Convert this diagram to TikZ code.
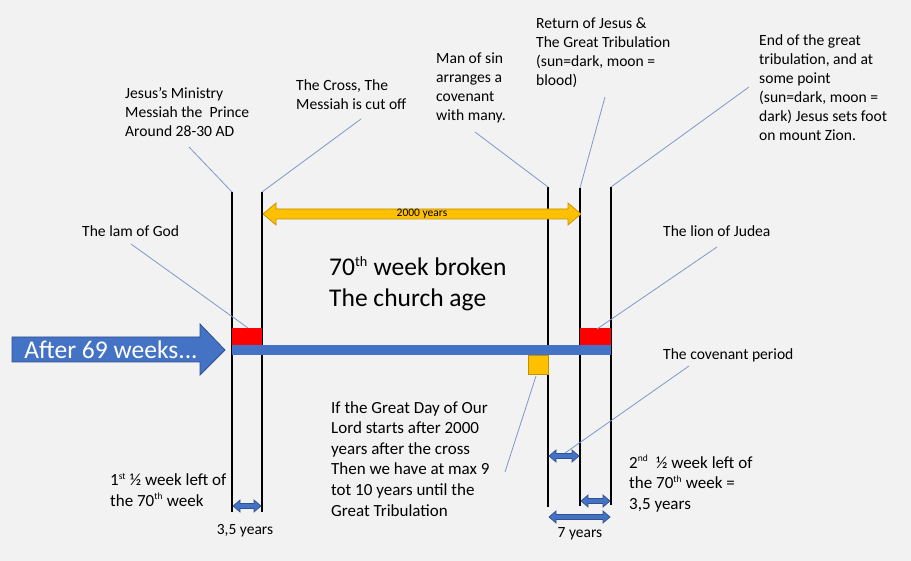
\documentclass[tikz,border=0pt]{standalone}
\usepackage{fontspec}
\setmainfont{Carlito}
\definecolor{hintergrund}{RGB}{242,242,242}
\definecolor{balkenblau}{RGB}{68,114,196}
\definecolor{randblau}{RGB}{47,82,143}
\definecolor{gelb}{RGB}{255,192,0}
\definecolor{randgelb}{RGB}{191,144,0}
\definecolor{linienblau}{RGB}{125,152,200}
\tikzset{
  zeitlinie/.style={line width=2pt,black},
  hinweis/.style={draw=linienblau,line width=0.8pt},
  tekst/.style={anchor=north west,align=left,inner sep=0pt,font=\fontsize{15.6}{19}\selectfont},
  grosstekst/.style={anchor=north west,align=left,inner sep=0pt,font=\fontsize{17}{20.6}\selectfont},
  kleinpfeil/.style={fill=balkenblau,draw=randblau,line width=0.7pt},
  jahrpfeil/.style={fill=gelb,draw=randgelb,line width=0.7pt}
}
% hochgestellt, kleiner als \textsuperscript
\newcommand{\hoch}[1]{\textsuperscript{\scalebox{0.8}{#1}}}
% Doppelpfeil: Stil, x1, x2, y, Schaft, Kopfbreite, Kopflaenge
\newcommand{\doppelpfeil}[7]{%
  \filldraw[#1] (#2,#4) -- ({#2+#7},{#4-#6}) -- ({#2+#7},{#4-#5}) -- ({#3-#7},{#4-#5})
    -- ({#3-#7},{#4-#6}) -- (#3,#4) -- ({#3-#7},{#4+#6}) -- ({#3-#7},{#4+#5})
    -- ({#2+#7},{#4+#5}) -- ({#2+#7},{#4+#6}) -- cycle;}
\begin{document}
\begin{tikzpicture}[x=1pt,y=-1pt]
        % Hintergrund
        \fill[hintergrund] (0,0) rectangle (911,561);
        \useasboundingbox (0,0) rectangle (911,561);

        % Zeitlinien
        \coordinate (aoben) at (232,192); \coordinate (aunten) at (232,512);
        \coordinate (boben) at (262,192); \coordinate (bunten) at (262,512);
        \coordinate (coben) at (548,187); \coordinate (cunten) at (548,507);
        \coordinate (doben) at (580,188); \coordinate (dunten) at (580,506);
        \coordinate (eoben) at (611,187); \coordinate (eunten) at (611,505);
        \foreach \n in {a,b,c,d,e} {
            \draw[zeitlinie] (\n oben) -- (\n unten);
        }

        % Balken
        \fill[balkenblau] (232,345) rectangle (611,355);
        \fill[red] (232,328) rectangle (262,345);
        \fill[red] (580,328) rectangle (611,345);
        \filldraw[fill=gelb,draw=randgelb,line width=0.5pt] (528,355) rectangle (548,374);

        % Grosser Pfeil
        \filldraw[fill=balkenblau,draw=randblau,line width=0.8pt] (12,337) -- (200,337) -- (200,324) -- (225,350)
            -- (200,375) -- (200,362) -- (12,362) -- cycle;
        \node[white,font=\fontsize{25.5}{30}\selectfont] (nach) at (111,350) {After 69 weeks...};

        % 2000 Jahre
        \doppelpfeil{jahrpfeil}{263}{581}{214}{5}{11}{13}
        \node[font=\fontsize{11.5}{13}\selectfont,inner sep=0pt] (jahre) at (422,214) {2000 years};

        % kleine Pfeile
        \doppelpfeil{kleinpfeil}{233}{261}{506}{2.5}{6}{7}
        \doppelpfeil{kleinpfeil}{549}{579}{456}{2.5}{6}{7}
        \doppelpfeil{kleinpfeil}{581}{610}{501}{2.5}{6}{7}
        \doppelpfeil{kleinpfeil}{549}{610}{517}{2.5}{6}{7}
        \node[font=\fontsize{15.5}{18}\selectfont,inner sep=0pt] (halb) at (245,531) {3,5 years};
        \node[font=\fontsize{15.5}{18}\selectfont,inner sep=0pt] (sieben) at (580,534) {7 years};

        % Texte oben
        \node[tekst] (dienst) at (125,87) {Jesus’s Ministry\\Messiah the\ \ Prince\\Around 28-30 AD};
        \node[tekst] (kreuz) at (296,79) {The Cross, The\\Messiah is cut off};
        \node[tekst] (bund) at (436,53) {Man of sin\\arranges a\\covenant\\with many.};
        \node[tekst] (wiederkunft) at (536,18) {Return of Jesus \&\\The Great Tribulation\\(sun=dark, moon =\\blood)};
        \node[tekst] (ende) at (759,34) {End of the great\\tribulation, and at\\some point\\(sun=dark, moon =\\dark) Jesus sets foot\\on mount Zion.};

        % Texte Mitte
        \node[tekst] (lamm) at (82,225) {The lam of God};
        \node[tekst] (loewe) at (663,225) {The lion of Judea};
        \node[tekst] (periode) at (663,348) {The covenant period};
        \node[anchor=north west,align=left,inner sep=0pt,font=\fontsize{25.5}{31}\selectfont] (kirche) at (329,256)
            {70\hoch{th} week broken\\The church age};

        % Texte unten
        \node[grosstekst] (tag) at (331,401) {If the Great Day of Our\\Lord starts after 2000\\years after the cross\\Then we have at max 9\\tot 10 years until the\\Great Tribulation};
        \node[grosstekst] (erste) at (110,473) {1\hoch{st} ½ week left of\\the 70\hoch{th} week};
        \node[grosstekst] (zweite) at (629,455) {2\hoch{nd}\ \ ½ week left of\\the 70\hoch{th} week =\\3,5 years};

        % Hinweislinien
        \coordinate (hDienst) at (189,147);
        \coordinate (hKreuz) at (361,119);
        \coordinate (hBund) at (475,132);
        \coordinate (hWieder) at (605,97);
        \coordinate (hEnde) at (749,87);
        \coordinate (hLamm) at (131,244);
        \coordinate (zLamm) at (248,328);
        \coordinate (hLoewe) at (717,247);
        \coordinate (zLoewe) at (597,329);
        \coordinate (hPeriode) at (689,366);
        \coordinate (zPeriode) at (565,453);
        \coordinate (hTag) at (505,472);
        \coordinate (zTag) at (536,376);
        \draw[hinweis] (hDienst) -- (aoben);
        \draw[hinweis] (hKreuz) -- (boben);
        \draw[hinweis] (hBund) -- (coben);
        \draw[hinweis] (hWieder) -- (doben);
        \draw[hinweis] (hEnde) -- (eoben);
        \draw[hinweis] (hLamm) -- (zLamm);
        \draw[hinweis] (hLoewe) -- (zLoewe);
        \draw[hinweis] (hPeriode) -- (zPeriode);
        \draw[hinweis] (hTag) -- (zTag);
\end{tikzpicture}
\end{document}
